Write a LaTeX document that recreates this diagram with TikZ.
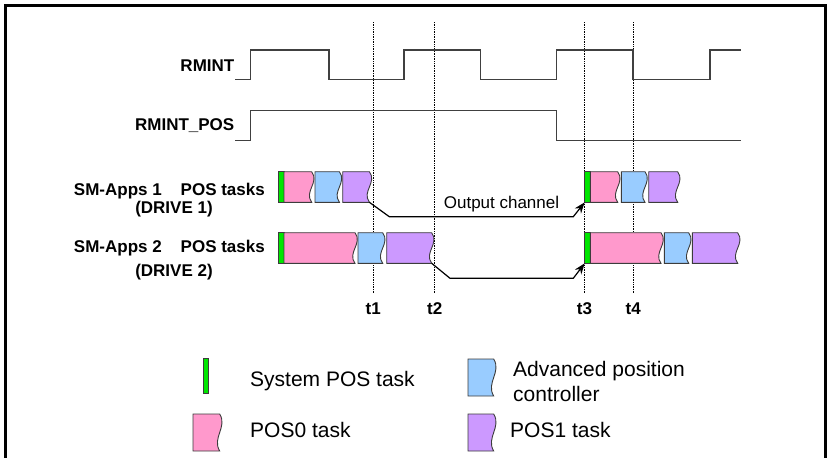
\documentclass[tikz,border=0pt]{standalone}
\usepackage{fontspec}
\setmainfont{Liberation Sans}
\usetikzlibrary{arrows.meta,positioning,calc}
\definecolor{sysgreen}{RGB}{0,230,0}
\definecolor{pospink}{RGB}{255,153,204}
\definecolor{apcblue}{RGB}{153,204,255}
\definecolor{pospurple}{RGB}{204,153,255}
\definecolor{edgegray}{RGB}{60,60,60}

% task block with wavy right edge: name, colour, left, right, top, bottom
\newcommand{\taskbox}[6]{%
  \pgfmathsetmacro{\tbr}{#4-2.3}%
  \pgfmathsetmacro{\tbha}{#5+0.35*(#6-#5)}%
  \pgfmathsetmacro{\tbhb}{#5+0.65*(#6-#5)}%
  \draw[task,fill=#2] (#3,#5) -- (\tbr,#5) .. controls (\tbr+8,\tbha) and (\tbr-8,\tbhb) .. (\tbr,#6) -- (#3,#6) -- cycle;
  \coordinate (#1-sw) at (#3,#6);
  \coordinate (#1-se) at (\tbr,#6);
}
% system POS task: name, left, top, bottom
\newcommand{\sysbox}[4]{%
  \draw[task,fill=sysgreen] (#2,#3) rectangle (#2+5.7,#4);
  \coordinate (#1-sw) at (#2,#4);
  \coordinate (#1-se) at (#2+5.7,#4);
}

\begin{document}
\begin{tikzpicture}[x=1pt, y=-1pt,
  sig/.style={line width=1.2pt, black!75},
  tline/.style={densely dotted, line width=0.7pt, black},
  task/.style={draw=edgegray, line width=0.9pt},
  lbl/.style={font=\fontsize{17}{20}\selectfont\bfseries, inner sep=0pt, anchor=base east},
  tlbl/.style={font=\fontsize{17}{20}\selectfont\bfseries, inner sep=0pt, anchor=base},
  legtxt/.style={font=\fontsize{21}{25}\selectfont, inner sep=0pt, anchor=west, align=left},
  arr/.style={-{Stealth[length=11pt,width=8pt]}, line width=1.2pt, black}
]
\useasboundingbox (0,0) rectangle (828,458);
\draw[line width=3pt] (5,470) -- (5,5) -- (825.5,5) -- (825.5,470);

% time marks
\foreach \tx/\tn in {373.3/t1, 434.7/t2, 584.5/t3, 633.3/t4}{
  \coordinate (\tn-top) at (\tx,22);
  \coordinate (\tn-bot) at (\tx,293);
  \draw[tline] (\tn-top) -- (\tn-bot);
  \node[tlbl] (\tn) at (\tx,314) {\tn};
}

% signals
\node[lbl] (rmint) at (234.5,71) {RMINT};
\node[lbl] (rmintpos) at (234.5,130) {RMINT\_POS};
\draw[sig] (235,79.5) -- (250.7,79.5) -- (250.7,50) -- (329,50) -- (329,79.5)
  -- (404,79.5) -- (404,50) -- (480.7,50) -- (480.7,79.5) -- (556.7,79.5)
  -- (556.7,50) -- (633,50) -- (633,79.5) -- (710,79.5) -- (710,50) -- (741,50);
\draw[sig] (235,140.7) -- (250.7,140.7) -- (250.7,110.7) -- (556.7,110.7)
  -- (556.7,140.7) -- (741,140.7);

% drive 1
\node[lbl] (app1) at (162,195) {SM-Apps 1};
\node[lbl] (pos1) at (265,195) {POS tasks};
\node[tlbl] (drv1) at (174,213) {(DRIVE 1)};
\sysbox{d1sa}{278.3}{171.7}{202.3}
\taskbox{d1pa}{pospink}{284}{314}{171.7}{202.3}
\taskbox{d1ca}{apcblue}{315}{341.7}{171.7}{202.3}
\taskbox{d1qa}{pospurple}{342.7}{371.7}{171.7}{202.3}
\sysbox{d1sb}{584.7}{171.7}{202.3}
\taskbox{d1pb}{pospink}{590.4}{620}{171.7}{202.3}
\taskbox{d1cb}{apcblue}{621.3}{647.3}{171.7}{202.3}
\taskbox{d1qb}{pospurple}{648.7}{680}{171.7}{202.3}

% drive 2
\node[lbl] (app2) at (162,252) {SM-Apps 2};
\node[lbl] (pos2) at (265,252) {POS tasks};
\node[tlbl] (drv2) at (174,276) {(DRIVE 2)};
\sysbox{d2sa}{278.3}{232.7}{263.3}
\taskbox{d2pa}{pospink}{284}{357.3}{232.7}{263.3}
\taskbox{d2ca}{apcblue}{358}{385}{232.7}{263.3}
\taskbox{d2qa}{pospurple}{386.7}{434}{232.7}{263.3}
\sysbox{d2sb}{584.7}{232.7}{263.3}
\taskbox{d2pb}{pospink}{590.4}{663.3}{232.7}{263.3}
\taskbox{d2cb}{apcblue}{664.3}{691}{232.7}{263.3}
\taskbox{d2qb}{pospurple}{692.3}{740}{232.7}{263.3}

% output channel
\coordinate (ch1a) at (389.3,216.7);
\coordinate (ch1b) at (573.3,216.7);
\coordinate (ch2a) at (450,278.3);
\coordinate (ch2b) at (573.3,278.3);
\draw[arr] (d1qa-se) -- (ch1a) -- (ch1b) -- (d1sb-sw);
\draw[arr] (d2qa-se) -- (ch2a) -- (ch2b) -- (d2sb-sw);
\node[font=\fontsize{17}{20}\selectfont, inner sep=0pt, anchor=base] (chan) at (501.5,208) {Output channel};

% legend
\sysbox{lgs}{203}{358}{393}
\node[legtxt] (lgstxt) at (250,381) {System POS task};
\taskbox{lgc}{apcblue}{468}{496}{359}{396}
\node[legtxt] (lgctxt) at (513,381) {Advanced position\\controller};
\taskbox{lgp}{pospink}{193}{222}{414}{451}
\node[legtxt] (lgptxt) at (250,430) {POS0 task};
\taskbox{lgq}{pospurple}{468}{496}{414}{451}
\node[legtxt] (lgqtxt) at (510,430) {POS1 task};
\end{tikzpicture}
\end{document}
